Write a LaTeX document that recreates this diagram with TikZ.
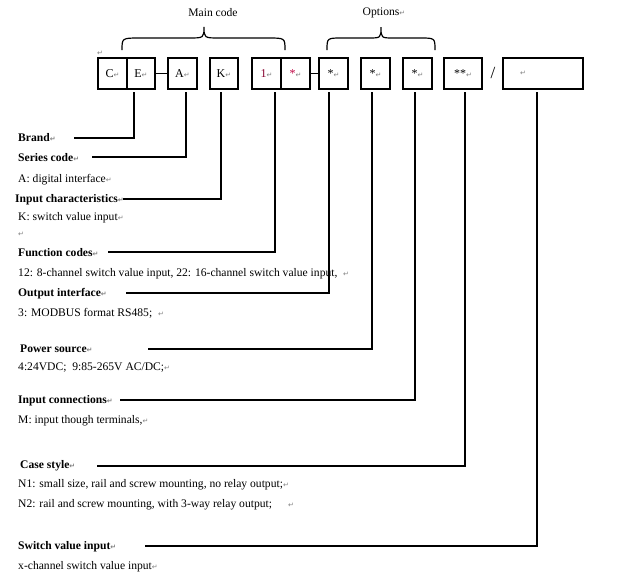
\documentclass[tikz,border=0pt]{standalone}
\usepackage{fontspec}
\setmainfont{Liberation Serif}
\newfontfamily\dvs{DejaVu Sans}
\newcommand{\rt}{{\dvs\fontsize{7}{7}\selectfont\textcolor{gray}{↵}}}
\begin{document}
\begin{tikzpicture}[x=1pt,y=-1pt,
  box/.style={draw,line width=1.3pt,minimum height=31pt,inner sep=0pt,font=\fontsize{12}{13}\selectfont},
  lbl/.style={anchor=west,inner sep=0pt,font=\fontsize{11.6}{13}\selectfont},
  bl/.style={lbl,font=\fontsize{11.6}{13}\selectfont\bfseries},
  ln/.style={line width=1.3pt},
  br/.style={line width=1.2pt}]
\useasboundingbox (0,0) rectangle (626,582);
\node[box,minimum width=29pt] (c) at (112.5,73.5) {C\rt};
\node[box,minimum width=28pt] (e) at (141,73.5) {E\rt};
\node[box,minimum width=29pt] (a) at (182.5,73.5) {A\rt};
\node[box,minimum width=28pt] (k) at (224,73.5) {K\rt};
\node[box,minimum width=29pt] (o) at (266.5,73.5) {\textcolor{purple!70!black}{1}\rt};
\node[box,minimum width=29pt] (s1) at (295.5,73.5) {\textcolor{purple}{*}\rt};
\node[box,minimum width=29pt] (s2) at (333.5,73.5) {*\rt};
\node[box,minimum width=29pt] (s3) at (375.5,73.5) {*\rt};
\node[box,minimum width=29pt] (s4) at (417.5,73.5) {*\rt};
\node[box,minimum width=38pt] (s5) at (463,73.5) {**\rt};
\node[box,minimum width=80pt] (s6) at (543,73.5) {\hspace*{-40pt}\rt};
\node[inner sep=0pt,font=\fontsize{17}{17}\selectfont] (sl) at (493,73) {/};
\node[inner sep=0pt] (r0) at (100,53) {\rt};
\draw[br] (e.east) -- (a.west);
\draw[br] (s1.east) -- (s2.west);
% braces
\draw[br] (122,50) .. controls (122,38) .. (140,38) -- (188,38) .. controls (204,38) .. (204,27) .. controls (204,38) .. (220,38) -- (268,38) .. controls (285,38) .. (285,50);
\draw[br] (327,50) .. controls (327,38) .. (342,38) -- (368,38) .. controls (381,38) .. (381,27) .. controls (381,38) .. (394,38) -- (420,38) .. controls (435,38) .. (435,50);
\node[lbl,anchor=center] (mc) at (213,13) {Main code};
\node[lbl,anchor=center] (op) at (384,13) {Options\rt};
% labels
\node[bl] (brand) at (18,138) {Brand\rt};
\node[bl] (series) at (18,158) {Series code\rt};
\node[lbl] (t1) at (18,180) {A: digital interface\rt};
\node[bl] (inch) at (15,200) {Input characteristics\rt};
\node[lbl] (t2) at (18,218) {K: switch value input\rt};
\node[lbl] (t2b) at (18,234) {\rt};
\node[bl] (func) at (18,253) {Function codes\rt};
\node[lbl] (t3) at (18,274) {12: 8-channel switch value input, 22: 16-channel switch value input,\ \ \rt};
\node[bl] (outi) at (18,294) {Output interface\rt};
\node[lbl] (t4) at (18,313) {3: MODBUS format RS485;\ \ \rt};
\node[bl] (pow) at (20,349) {Power source\rt};
\node[lbl] (t5) at (18,368) {4:24VDC;\ \ 9:85-265V AC/DC;\rt};
\node[bl] (inc) at (18,401) {Input connections\rt};
\node[lbl] (t6) at (18,421) {M: input though terminals,\rt};
\node[bl] (cs) at (20,466) {Case style\rt};
\node[lbl] (t7) at (18,485) {N1: small size, rail and screw mounting, no relay output;\rt};
\node[lbl] (t8) at (18,505) {N2: rail and screw mounting, with 3-way relay output;\hspace{16pt}\rt};
\node[bl] (sv) at (18,547) {Switch value input\rt};
\node[lbl] (t9) at (18,567) {x-channel switch value input\rt};
% leaders
\coordinate (b1) at (134,138); \coordinate (b2) at (186,157); \coordinate (b3) at (221,199);
\coordinate (b4) at (275,252); \coordinate (b5) at (329,293); \coordinate (b6) at (372,349);
\coordinate (b7) at (415,400); \coordinate (b8) at (465,466); \coordinate (b9) at (537,546);
\draw[ln] (74,138) -- (b1) -- (134,92);
\draw[ln] (92,157) -- (b2) -- (186,92);
\draw[ln] (123,199) -- (b3) -- (221,92);
\draw[ln] (108,252) -- (b4) -- (275,92);
\draw[ln] (126,293) -- (b5) -- (329,92);
\draw[ln] (148,349) -- (b6) -- (372,92);
\draw[ln] (120,400) -- (b7) -- (415,92);
\draw[ln] (97,466) -- (b8) -- (465,92);
\draw[ln] (145,546) -- (b9) -- (537,92);
\end{tikzpicture}
\end{document}
